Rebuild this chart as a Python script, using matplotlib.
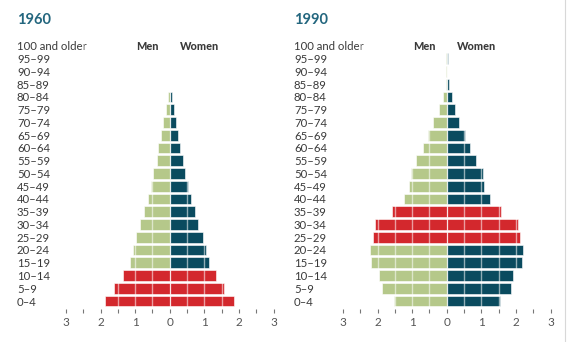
import matplotlib
matplotlib.use("Agg")
import matplotlib.pyplot as plt
import numpy as np

plt.rcParams["font.family"] = ["Lato", "DejaVu Sans"]

age_groups = ["0-4", "5-9", "10-14", "15-19", "20-24", "25-29", "30-34",
              "35-39", "40-44", "45-49", "50-54", "55-59", "60-64", "65-69",
              "70-74", "75-79", "80-84", "85-89", "90-94", "95-99",
              "100 and older"]
age_labels = [a.replace("-", "–") for a in age_groups]

# Percentage of total population by age group
men_1960 = [1.86, 1.60, 1.35, 1.15, 1.06, 0.98, 0.86, 0.75, 0.62, 0.55, 0.48,
            0.37, 0.34, 0.25, 0.20, 0.10, 0.04, 0, 0, 0, 0]
women_1960 = [1.85, 1.57, 1.34, 1.14, 1.05, 0.96, 0.83, 0.74, 0.60, 0.54, 0.44,
              0.37, 0.31, 0.24, 0.17, 0.11, 0.07, 0, 0, 0, 0]
men_1990 = [1.52, 1.86, 1.95, 2.20, 2.23, 2.14, 2.07, 1.57, 1.25, 1.09, 1.04,
            0.89, 0.68, 0.55, 0.39, 0.21, 0.10, 0.02, 0.03, 0.01, 0]
women_1990 = [1.54, 1.85, 1.92, 2.19, 2.21, 2.11, 2.05, 1.56, 1.24, 1.07, 1.05,
              0.86, 0.67, 0.54, 0.35, 0.24, 0.14, 0.06, 0.01, 0.03, 0]

# Highlighted (baby-boom) cohorts per year
highlight_1960 = ["0-4", "5-9", "10-14"]
highlight_1990 = ["25-29", "30-34", "35-39"]

xticks = [-3, -2, -1, 0, 1, 2, 3]
xticklabels = ["3", "2", "1", "0", "1", "2", "3"]

MEN_COLOR = "#b5c88a"
WOMEN_COLOR = "#0a4b5f"
HIGHLIGHT = "#d3282d"
TITLE_COLOR = "#23667e"
TEXT_COLOR = "#3a3a3a"

fig = plt.figure(figsize=(5.68, 3.42), dpi=100)
W, H = 568, 342


def draw_panel(left_px, title, men, women, highlight):
    x0, x1 = left_px, left_px + 207.5
    row = 12.75
    bottom_px = 301 + 0.6 * row
    height_px = 21.2 * row
    ax = fig.add_axes([x0 / W, (H - bottom_px) / H, (x1 - x0) / W, height_px / H])
    y = np.arange(len(age_groups))
    men_c = [HIGHLIGHT if a in highlight else MEN_COLOR for a in age_groups]
    wom_c = [HIGHLIGHT if a in highlight else WOMEN_COLOR for a in age_groups]
    ax.barh(y, -np.array(men), height=0.84, color=men_c, edgecolor="white",
            linewidth=0.4, zorder=2)
    ax.barh(y, women, height=0.84, color=wom_c, edgecolor="white",
            linewidth=0.4, zorder=2)
    for gx in np.arange(-2.5, 2.6, 0.5):
        ax.axvline(gx, color="white", alpha=0.55, linewidth=1.0, zorder=3)
    ax.set_xlim(-3, 3)
    ax.set_ylim(-0.6, 20.6)
    for s in ax.spines.values():
        s.set_visible(False)
    ax.set_xticks(xticks)
    ax.set_xticklabels(xticklabels)
    ax.set_xticks(np.arange(-2.5, 3, 1.0), minor=True)
    ax.tick_params(axis="x", which="both", length=3.2, width=0.8, color="#777777",
                   pad=2.5, labelsize=8.5, labelcolor="#555555", direction="out")
    for t in ax.xaxis.get_major_ticks() + ax.xaxis.get_minor_ticks():
        t.tick1line.set_marker(matplotlib.markers.TICKDOWN)
    ax.set_yticks(y)
    ax.set_yticklabels(age_labels, ha="left", fontsize=8.2, color=TEXT_COLOR)
    ax.tick_params(axis="y", length=0, pad=35.3)
    ax.text(-0.64, 20, "Men", ha="center", va="center", fontsize=7.8,
            fontweight="black", color=TEXT_COLOR)
    ax.text(0.86, 20, "Women", ha="center", va="center", fontsize=7.8,
            fontweight="black", color=TEXT_COLOR)
    fig.text((left_px - 49) / W, 1 - 20 / H, title, ha="left", va="center",
             fontsize=10.5, fontweight="bold", color=TITLE_COLOR)
    return ax


draw_panel(66, "1960", men_1960, women_1960, highlight_1960)
draw_panel(343, "1990", men_1990, women_1990, highlight_1990)

fig.add_artist(plt.Line2D([565 / W, 565 / W], [0, 1], transform=fig.transFigure,
                          color="#d8d8d8", linewidth=0.8))

fig.savefig("out.png", dpi=100)
